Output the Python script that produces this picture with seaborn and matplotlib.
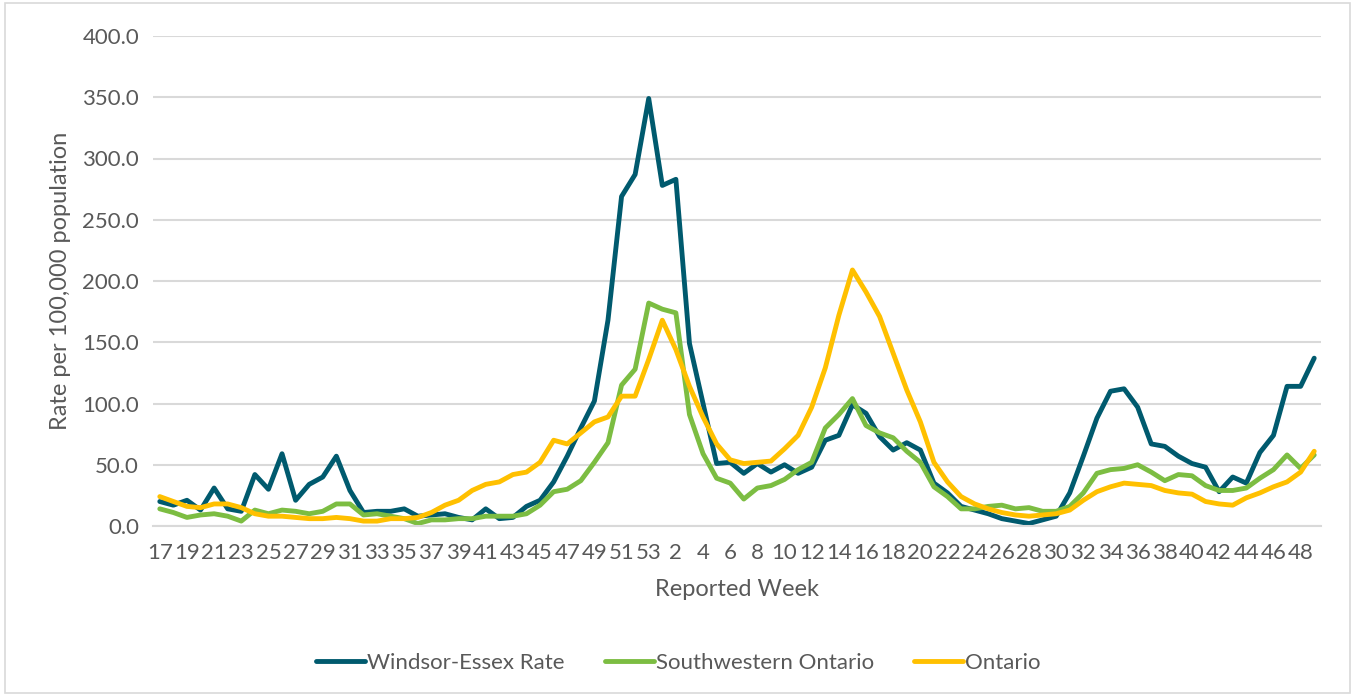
import numpy as np
import pandas as pd
import matplotlib.pyplot as plt
import seaborn as sns
from matplotlib.patches import Rectangle

# Reported weeks: week 17 to 53 of 2020, then week 1 to 49 of 2021
weeks = list(range(17, 54)) + list(range(1, 50))

windsor = [20, 17, 21, 13, 31, 14, 12, 42, 30, 59, 21, 34, 40, 57, 29, 11, 12, 12, 14, 8,
           9, 10, 7, 5, 14, 6, 7, 16, 21, 36, 57, 80, 102, 168, 269, 287, 349, 278, 283, 149,
           100, 51, 52, 43, 51, 44, 50, 43, 48, 70, 74, 99, 92, 73, 62, 68, 62, 35, 27, 16,
           13, 10, 6, 4, 2, 5, 8, 27, 57, 88, 110, 112, 97, 67, 65, 57, 51, 48, 28, 40,
           35, 60, 74, 114, 114, 137]

southwestern = [14, 11, 7, 9, 10, 8, 4, 13, 10, 13, 12, 10, 12, 18, 18, 9, 10, 8, 6, 2,
                5, 5, 6, 6, 8, 8, 8, 10, 17, 28, 30, 37, 52, 68, 115, 128, 182, 177, 174, 91,
                59, 39, 35, 22, 31, 33, 38, 46, 52, 80, 91, 104, 82, 76, 72, 61, 52, 32, 24, 14,
                14, 16, 17, 14, 15, 12, 12, 16, 27, 43, 46, 47, 50, 44, 37, 42, 41, 33, 29, 29,
                31, 39, 46, 58, 47, 58]

ontario = [24, 20, 16, 15, 18, 18, 15, 10, 8, 8, 7, 6, 6, 7, 6, 4, 4, 6, 6, 7,
           11, 17, 21, 29, 34, 36, 42, 44, 52, 70, 67, 76, 85, 89, 106, 106, 136, 168, 144, 114,
           89, 67, 54, 51, 52, 53, 63, 74, 97, 129, 172, 209, 191, 171, 141, 111, 85, 52, 36, 24,
           18, 14, 11, 9, 8, 9, 10, 13, 21, 28, 32, 35, 34, 33, 29, 27, 26, 20, 18, 17,
           23, 27, 32, 36, 44, 61]

series_names = ["Windsor-Essex Rate", "Southwestern Ontario", "Ontario"]
colors = ["#005A6E", "#7CBD42", "#FFC000"]

idx = np.arange(len(weeks))
df = pd.DataFrame({
    "pos": np.tile(idx, 3),
    "rate": windsor + southwestern + ontario,
    "series": np.repeat(series_names, len(weeks)),
})

sns.set_theme(style="white")
plt.rcParams["font.family"] = ["Lato", "DejaVu Sans"]
text_color = "#595959"
grid_color = "#D9D9D9"

fig = plt.figure(figsize=(13.57, 6.96), dpi=100)
ax = fig.add_axes([153 / 1357, (696 - 526) / 696, (1321 - 153) / 1357, (526 - 36) / 696])

sns.lineplot(data=df, x="pos", y="rate", hue="series", hue_order=series_names,
             palette=colors, linewidth=3.5, ax=ax, legend=True)

ax.set_xlim(-0.5, len(weeks) - 0.5)
ax.set_ylim(0, 400)
ax.set_yticks(np.arange(0, 401, 50))
ax.set_yticklabels([f"{v:.1f}" for v in np.arange(0, 401, 50)])
ax.set_xticks(idx[::2])
ax.set_xticklabels([str(w) for w in weeks[::2]])
ax.tick_params(axis="both", length=0, labelsize=16, colors=text_color)
ax.tick_params(axis="y", pad=10)
ax.tick_params(axis="x", pad=12)

ax.grid(axis="y", color=grid_color, linewidth=1.5)
ax.set_axisbelow(True)
for side in ["left", "right", "top"]:
    ax.spines[side].set_visible(False)
ax.spines["bottom"].set_color(grid_color)
ax.spines["bottom"].set_linewidth(1.5)

ax.set_xlabel("Reported Week", fontsize=17, color=text_color, labelpad=12)
ax.set_ylabel("Rate per 100,000 population", fontsize=17, color=text_color, labelpad=8)

handles, labels = ax.get_legend_handles_labels()
ax.legend_.remove()
fig.legend(handles, labels, loc="center", bbox_to_anchor=(0.5, (696 - 663) / 696),
           ncol=3, frameon=False, fontsize=16, handlelength=2.2, columnspacing=1.8,
           handletextpad=0.1, labelcolor=text_color)

fig.patches.append(Rectangle((5 / 1357, 3 / 696), 1345 / 1357, 690 / 696,
                             transform=fig.transFigure, fill=False,
                             edgecolor=grid_color, linewidth=1.2))

fig.savefig("out.png", dpi=100)
